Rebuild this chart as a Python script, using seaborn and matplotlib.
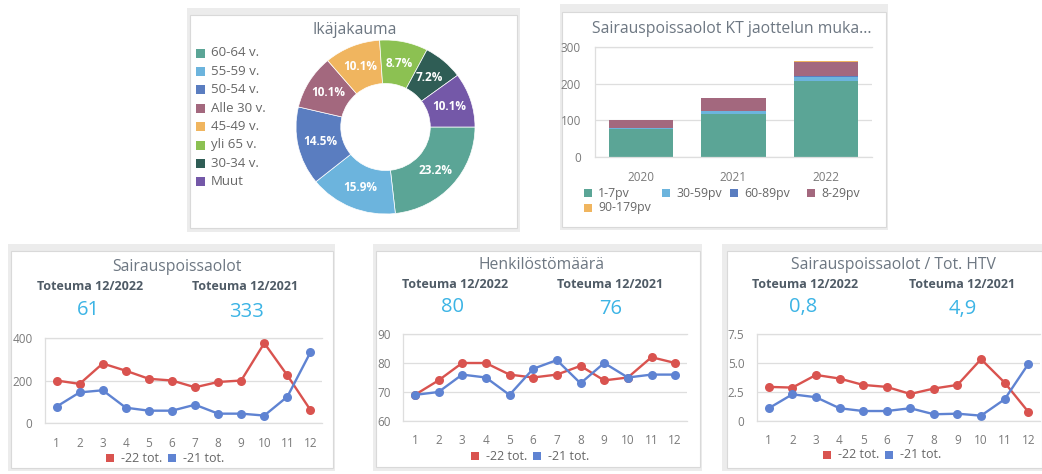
import numpy as np
import pandas as pd
import matplotlib
matplotlib.use("Agg")
import matplotlib.pyplot as plt
import seaborn as sns
from matplotlib.patches import Rectangle

# ---------------- data ----------------
age_labels = ['60-64 v.', '55-59 v.', '50-54 v.', 'Alle 30 v.', '45-49 v.', 'yli 65 v.', '30-34 v.', 'Muut']
age_shares = [23.2, 15.9, 14.5, 10.1, 10.1, 8.7, 7.2, 10.1]

years = ['2020', '2021', '2022']
kt_categories = ['1-7pv', '30-59pv', '60-89pv', '8-29pv', '90-179pv']
kt_1_7 = [76, 118, 206]
kt_30_59 = [3, 7, 12]
kt_60_89 = [1, 1, 3]
kt_8_29 = [20, 34, 38]
kt_90_179 = [1.5, 0, 2]
kt_yticks = [0, 100, 200, 300]

months = list(range(1, 13))
series_names = ['-22 tot.', '-21 tot.']
sick_22 = [200, 184, 280, 246, 208, 200, 168, 193, 200, 376, 224, 61]
sick_21 = [77, 144, 154, 72, 58, 58, 86, 44, 44, 35, 124, 333]
sick_yticks = [0, 200, 400]
staff_22 = [69, 74, 80, 80, 76, 75, 76, 79, 74, 75, 82, 80]
staff_21 = [69, 70, 76, 75, 69, 78, 81, 73, 80, 75, 76, 76]
staff_yticks = [60, 70, 80, 90]
htv_22 = [2.94, 2.88, 3.97, 3.66, 3.11, 2.94, 2.33, 2.8, 3.11, 5.33, 3.31, 0.8]
htv_21 = [1.1, 2.3, 2.05, 1.1, 0.86, 0.86, 1.1, 0.58, 0.63, 0.46, 1.87, 4.9]
htv_yticks = [0, 2.5, 5.0, 7.5]
htv_yticklabels = ['0', '2.5', '5.0', '7.5']

# ---------------- style ----------------
sns.set_theme(style='white')
plt.rcParams['font.family'] = ['Open Sans', 'DejaVu Sans']

W, H = 1042, 474
fig = plt.figure(figsize=(W / 100, H / 100), dpi=100)
fig.patch.set_facecolor('white')

RED = '#d9534f'
BLUE = '#5f83d2'
TITLE_C = '#6d7782'
TOT_C = '#4f5b66'
NUM_C = '#3cb4e5'
TICK_C = '#7a7a7a'
GRID_C = '#dedede'
LEG_C = '#666666'
TITLE_FS = 11.3

age_colors = ['#5ba596', '#6cb4dd', '#5a7dc0', '#a3687e', '#f0b55f', '#8cc152', '#2f5d55', '#7458a8']
kt_colors = ['#5ba596', '#6cb4dd', '#5a7dc0', '#a3687e', '#f0b55f']


def frac_box(x0, y0, x1, y1):
    return [x0 / W, 1 - y1 / H, (x1 - x0) / W, (y1 - y0) / H]


def card(x0, y0, x1, y1, ix0, iy0, ix1, iy1):
    b = frac_box(x0, y0, x1, y1)
    fig.add_artist(Rectangle((b[0], b[1]), b[2], b[3], transform=fig.transFigure,
                             facecolor='#ececec', edgecolor='none', zorder=-20))
    b = frac_box(ix0, iy0, ix1, iy1)
    fig.add_artist(Rectangle((b[0], b[1]), b[2], b[3], transform=fig.transFigure,
                             facecolor='white', edgecolor='#d9d9d9', linewidth=0.8, zorder=-19))


def ftext(x, y, s, **kw):
    kw.setdefault('ha', 'center')
    kw.setdefault('va', 'center')
    fig.text(x / W, 1 - y / H, s, **kw)


def square(x, y, color, size=9):
    b = frac_box(x - size / 2, y - size / 2, x + size / 2, y + size / 2)
    fig.add_artist(Rectangle((b[0], b[1]), b[2], b[3], transform=fig.transFigure,
                             facecolor=color, edgecolor='none', zorder=5))


def style_axes(ax, ylim, yticks, ylabels=None, ypad=8, xpad=10, xsize=8.5):
    ax.set_facecolor('none')
    ax.set_ylim(*ylim)
    ax.set_yticks(yticks)
    if ylabels is not None:
        ax.set_yticklabels(ylabels)
    ax.grid(axis='y', color=GRID_C, linewidth=0.9)
    ax.grid(axis='x', visible=False)
    ax.set_axisbelow(True)
    for s in ['top', 'bottom', 'left']:
        ax.spines[s].set_visible(True)
        ax.spines[s].set_color(GRID_C)
        ax.spines[s].set_linewidth(0.9)
    ax.spines['right'].set_visible(False)
    ax.tick_params(axis='both', length=0, colors=TICK_C)
    ax.tick_params(axis='y', pad=ypad, labelsize=8.5)
    ax.tick_params(axis='x', pad=xpad, labelsize=xsize)
    ax.set_xlabel('')
    ax.set_ylabel('')


# ---------------- cards ----------------
card(187, 8, 520, 232, 190, 15, 517, 228)
card(560, 4, 888, 230, 562, 12, 886, 227)
card(8, 244, 335, 471, 11, 251, 333, 468)
card(373, 244, 702, 471, 376, 251, 700, 467)
card(722, 244, 1042, 471, 727, 251, 1042, 468)

# ---------------- donut ----------------
ftext(355, 30, 'Ikäjakauma', fontsize=TITLE_FS, color=TITLE_C)
axd = fig.add_axes(frac_box(296, 40, 475, 214))
axd.pie(age_shares, colors=age_colors, startangle=0, counterclock=False, radius=1,
        wedgeprops=dict(width=0.5, edgecolor='white', linewidth=0.5),
        autopct=lambda p: f'{p:.1f}%', pctdistance=0.75,
        textprops=dict(color='white', fontsize=8.5, fontweight='bold'))
axd.set_xlim(-1, 1)
axd.set_ylim(-1, 1)
axd.set_aspect('auto')
axd.axis('off')

for i, lab in enumerate(age_labels):
    y = 53 + i * 18.4
    square(200, y, age_colors[i], size=9)
    ftext(211, y, lab, ha='left', fontsize=9.5, color=LEG_C)

# ---------------- stacked bars ----------------
ftext(732, 29, 'Sairauspoissaolot KT jaottelun muka...', fontsize=TITLE_FS, color=TITLE_C)
axb = fig.add_axes(frac_box(595, 47, 872, 157))
stack = np.array([kt_1_7, kt_30_59, kt_60_89, kt_8_29, kt_90_179], dtype=float)
cum = np.cumsum(stack, axis=0)
for i in reversed(range(len(kt_categories))):
    sns.barplot(x=years, y=cum[i], color=kt_colors[i], saturation=1, width=0.7,
                errorbar=None, edgecolor='none', linewidth=0, ax=axb)
style_axes(axb, (0, 300), kt_yticks, ypad=10, xpad=10, xsize=8.5)
axb.set_xlim(-0.5, 2.5)

bar_leg = [(588, 193), (666, 193), (734, 193), (811, 193), (588, 208)]
for (x, y), lab, c in zip(bar_leg, kt_categories, kt_colors):
    square(x, y, c, size=8.5)
    ftext(x + 10, y, lab, ha='left', fontsize=8.8, color=LEG_C)

# ---------------- line charts ----------------
def line_card(box, title, title_xy, tot_xy, nums, s22, s21, ylim, yticks, ylabels,
              leg_xy, xpad):
    ftext(title_xy[0], title_xy[1], title, fontsize=TITLE_FS, color=TITLE_C)
    (tx1, ty), (tx2, _) = tot_xy
    ftext(tx1, ty, 'Toteuma 12/2022', fontsize=9, fontweight='bold', color=TOT_C)
    ftext(tx2, ty, 'Toteuma 12/2021', fontsize=9, fontweight='bold', color=TOT_C)
    ftext(tx1 - 2, ty + 23, nums[0], fontsize=14.5, color=NUM_C)
    ftext(tx2 + 1, ty + 25, nums[1], fontsize=14.5, color=NUM_C)
    ax = fig.add_axes(frac_box(*box))
    df = pd.DataFrame({
        'month': months + months,
        'value': list(s22) + list(s21),
        'series': [series_names[0]] * 12 + [series_names[1]] * 12,
    })
    sns.lineplot(data=df, x='month', y='value', hue='series', hue_order=series_names,
                 palette=[RED, BLUE], marker='o', markersize=6.5, markeredgewidth=0,
                 linewidth=1.7, legend=False, ax=ax)
    style_axes(ax, ylim, yticks, ylabels, ypad=9, xpad=xpad)
    ax.set_xlim(0.5, 12.5)
    ax.set_xticks(months)
    lx, ly = leg_xy
    square(lx, ly, RED, size=8)
    ftext(lx + 11, ly, series_names[0], ha='left', fontsize=9, color=LEG_C)
    square(lx + 62, ly, BLUE, size=8)
    ftext(lx + 73, ly, series_names[1], ha='left', fontsize=9, color=LEG_C)


line_card((45, 338, 322, 423), 'Sairauspoissaolot', (177, 267), ((90, 287), (245, 287)),
          (f'{sick_22[-1]}', f'{sick_21[-1]}'), sick_22, sick_21, (0, 400), sick_yticks, None,
          (110, 458), 10)
line_card((403, 334, 687, 421), 'Henkilöstömäärä', (542, 265), ((455, 284), (610, 284)),
          (f'{staff_22[-1]}', f'{staff_21[-1]}'), staff_22, staff_21, (60, 90), staff_yticks, None,
          (475, 456), 9)
line_card((757, 334, 1040, 421), 'Sairauspoissaolot / Tot. HTV', (893, 265), ((805, 284), (962, 284)),
          (f'{htv_22[-1]:.1f}'.replace('.', ','), f'{htv_21[-1]:.1f}'.replace('.', ',')),
          htv_22, htv_21, (0, 7.5), htv_yticks, htv_yticklabels,
          (827, 455), 9)

fig.savefig('out.png', dpi=100, facecolor='white')
